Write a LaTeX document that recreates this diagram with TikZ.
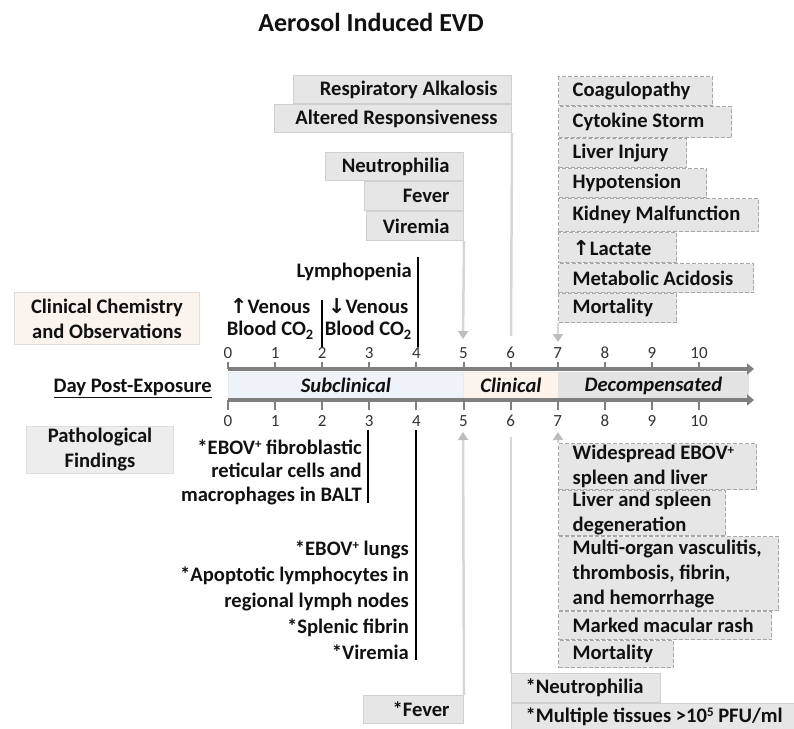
\documentclass[tikz,border=0pt]{standalone}
\usepackage{fontspec}
\setmainfont{Carlito}
\newfontfamily\symf{DejaVu Sans}
\usetikzlibrary{arrows.meta}
\definecolor{boxfill}{HTML}{E6E6E6}
\definecolor{boxline}{HTML}{D0D0D0}
\definecolor{dashline}{HTML}{A8A8A8}
\definecolor{conn}{HTML}{D6D6D6}
\definecolor{connhead}{HTML}{BDBDBD}
\definecolor{axisgray}{HTML}{7F7F7F}
\definecolor{subfill}{HTML}{EEF3F9}
\definecolor{clinfill}{HTML}{FCF3EC}
\definecolor{decfill}{HTML}{E3E3E3}
\definecolor{chemfill}{HTML}{FBF3EE}
\definecolor{pathfill}{HTML}{EDEDED}
\definecolor{txt}{HTML}{111111}
\newcommand\nb[1]{\mbox{\spaceskip=0pt\xspaceskip=0pt #1}}
\newcommand\smallsup[1]{\raisebox{0.55ex}{\fontsize{13}{14}\selectfont #1}}
\begin{document}
\begin{tikzpicture}[x=1pt,y=-1pt,
  every node/.style={font=\bfseries\fontsize{20.6}{24}\selectfont, inner sep=0pt, text=txt},
  sbox/.style={draw=boxline, fill=boxfill, line width=1pt, inner xsep=14pt, anchor=north west, align=right},
  dbox/.style={draw=dashline, fill=boxfill, line width=1.2pt, dash pattern=on 4pt off 2pt, inner xsep=14pt, anchor=north west, align=left},
  lbox/.style={draw=boxline, fill=boxfill, line width=1pt, inner xsep=14pt, anchor=north west, align=left},
  lab/.style={draw=boxline!70, line width=1pt, anchor=north west, align=center},
  conn/.style={draw=conn, line width=2.5pt},
  connarr/.style={conn, -{Triangle[width=10pt,length=8pt,color=connhead]}},
  axisline/.style={draw=axisgray, line width=4.5pt, -{Triangle[width=11pt,length=7pt]}},
  tick/.style={draw=axisgray, line width=2pt},
  ticklab/.style={font=\mdseries\fontsize{17}{20}\selectfont, text=black!80},
  bracket/.style={draw=black, line width=2.5pt},
  band/.style={draw=#1!80!gray!60, line width=0.8pt, fill=#1},
  bandlab/.style={font=\bfseries\itshape\fontsize{20.6}{24}\selectfont},
  two/.style={font=\bfseries\fontsize{20.6}{25}\selectfont}
]
\useasboundingbox (0,0) rectangle (794,728);

% title
\node[font=\bfseries\fontsize{26}{30}\selectfont] (title) at (371,22) {Aerosol Induced EVD};

% upper-left solid boxes
\node[sbox, text width=190pt, minimum height=28pt] (resp) at (293,75) {\nb{Respiratory Alkalosis}};
\node[sbox, text width=209pt, minimum height=28pt] (alt) at (274,104) {\nb{Altered Responsiveness}};
\node[sbox, text width=110pt, minimum height=28pt] (neut) at (325,152) {\nb{Neutrophilia}};
\node[sbox, text width=71pt, minimum height=29pt] (fever) at (364,181) {\nb{Fever}};
\node[sbox, text width=69pt, minimum height=29pt] (vir) at (366,211) {\nb{Viremia}};

% upper-right dashed boxes
\node[dbox, text width=126pt, minimum height=29pt] (coag) at (558,76) {\nb{Coagulopathy}};
\node[dbox, text width=145pt, minimum height=31pt] (cyto) at (558,106) {\nb{Cytokine Storm}};
\node[dbox, text width=100pt, minimum height=29pt] (liver) at (558,138) {\nb{Liver Injury}};
\node[dbox, text width=120pt, minimum height=29pt] (hypo) at (558,168) {\nb{Hypotension}};
\node[dbox, text width=172pt, minimum height=33pt] (kidney) at (558,198) {\nb{Kidney Malfunction}};
\node[dbox, text width=90pt, minimum height=30pt] (lact) at (558,232) {\nb{{\symf ↑}Lactate}};
\node[dbox, text width=167pt, minimum height=29pt] (metab) at (558,263) {\nb{Metabolic Acidosis}};
\node[dbox, text width=90pt, minimum height=29pt] (mortA) at (558,293) {\nb{Mortality}};

% left labels
\node[lab, two, fill=chemfill, minimum width=185pt, minimum height=52pt] (chem) at (14,292) {\nb{Clinical Chemistry}\\\nb{and Observations}};
\node[lab, two, fill=pathfill, minimum width=147pt, minimum height=47pt] (path) at (26,426) {\nb{Pathological}\\\nb{Findings}};
\node[anchor=east] (day) at (212,388) {\underline{Day Post-Exposure}};

% clinical chemistry texts
\node[anchor=east] (lymph) at (412,272) {Lymphopenia};
\node[anchor=east, align=center, font=\bfseries\fontsize{20.6}{22}\selectfont] (upco) at (314,319) {{\symf ↑}Venous\\\nb{Blood CO\textsubscript{2}}};
\node[anchor=east, align=center, font=\bfseries\fontsize{20.6}{22}\selectfont] (downco) at (412,319) {{\symf ↓}Venous\\\nb{Blood CO\textsubscript{2}}};
\draw[bracket] (322,300) -- (322,347);
\draw[bracket] (418,257) -- (418,347);

% band
\node[band=subfill, anchor=north west, minimum width=235pt, minimum height=26pt] (sub) at (228,372) {};
\node[band=clinfill, anchor=north west, minimum width=95pt, minimum height=26pt] (clin) at (463,372) {};
\node[band=decfill, anchor=north west, minimum width=190pt, minimum height=26pt] (dec) at (558,372) {};
\node[bandlab] at (sub.center) {Subclinical};
\node[bandlab] at (clin.center) {Clinical};
\node[bandlab] at (dec.center) {Decompensated};

% axes
\coordinate (axAs) at (228,369); \coordinate (axAe) at (754,369);
\coordinate (axBs) at (228,400); \coordinate (axBe) at (754,400);
\draw[axisline] (axAs) -- (axAe);
\draw[axisline] (axBs) -- (axBe);
\foreach \d in {0,...,10} {
  \pgfmathsetmacro{\xx}{228+47.1*\d}
  \draw[tick] (\xx,362) -- (\xx,369);
  \draw[tick] (\xx,400) -- (\xx,410);
  \node[ticklab] at (\xx,353) {\d};
  \node[ticklab] at (\xx,421) {\d};
}

% pathological findings texts
\node[anchor=east, align=right, font=\bfseries\fontsize{20.6}{23.5}\selectfont] (balt) at (362,472) {\nb{*EBOV\smallsup{+} fibroblastic}\\\nb{reticular cells and}\\\nb{macrophages in BALT}};
\draw[bracket] (368,430) -- (368,503);
\node[anchor=east, align=right, font=\bfseries\fontsize{20.6}{26}\selectfont] (lungs) at (409,600) {\nb{*EBOV\smallsup{+} lungs}\\\nb{*Apoptotic lymphocytes in}\\\nb{regional lymph nodes}\\\nb{*Splenic fibrin}\\\nb{*Viremia}};
\draw[bracket] (416,430) -- (416,660);

\node[sbox, text width=72pt, minimum height=28pt] (feverB) at (363,695) {\nb{*Fever}};

% lower-right dashed boxes
\node[dbox, two, text width=170pt, minimum height=46pt] (wide) at (558,443) {\nb{Widespread EBOV\smallsup{+}}\\\nb{spleen and liver}};
\node[dbox, two, text width=139pt, minimum height=45pt] (degen) at (558,490) {\nb{Liver and spleen}\\\nb{degeneration}};
\node[dbox, two, text width=192pt, minimum height=74pt] (multi) at (558,536) {\nb{Multi-organ vasculitis,}\\\nb{thrombosis, fibrin,}\\\nb{and hemorrhage}};
\node[dbox, text width=185pt, minimum height=28pt] (rash) at (558,611) {\nb{Marked macular rash}};
\node[dbox, text width=87pt, minimum height=27pt] (mortB) at (558,640) {\nb{Mortality}};
\node[lbox, text width=121pt, minimum height=29pt] (neutB) at (511,673) {\nb{*Neutrophilia}};
\node[lbox, text width=262pt, minimum height=26pt] (tissue) at (511,703) {\nb{*Multiple tissues {>}10\smallsup{5} PFU/ml}};

% connectors
\coordinate (c5u) at (463,339);
\coordinate (c6u) at (511,336);
\coordinate (c7u) at (558,342);
\coordinate (c5d) at (463,432);
\coordinate (c6d) at (511,437);
\coordinate (c7d) at (558,432);
\draw[connarr] (vir.south east) -- (c5u);
\draw[conn] (alt.south east) -- (c6u);
\draw[connarr] (mortA.south west) -- (c7u);
\draw[connarr] (feverB.north east) -- (c5d);
\draw[conn] (neutB.north west) -- (c6d);
\draw[connarr] (wide.north west) -- (c7d);
\end{tikzpicture}
\end{document}
